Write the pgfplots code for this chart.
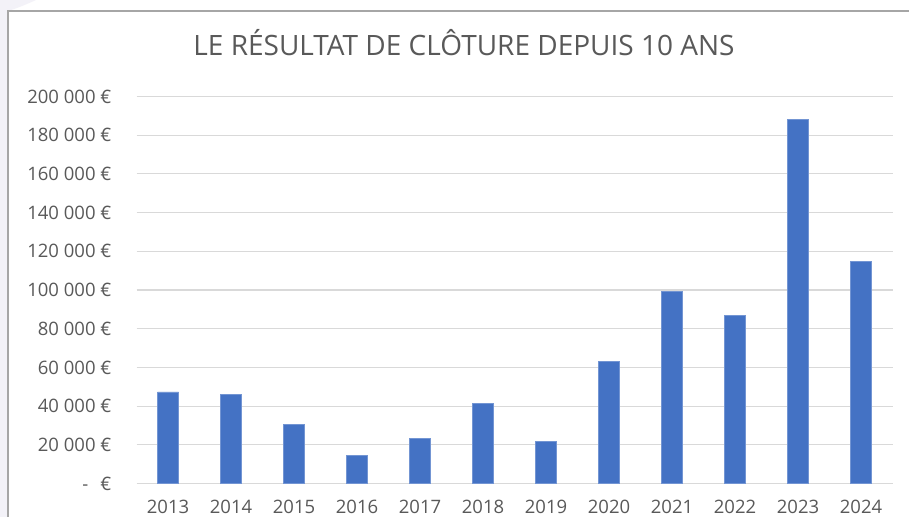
\documentclass[border=0pt]{standalone}
\usepackage{fontspec}
\setmainfont{Open Sans}
\usepackage{pgfplots}
\pgfplotsset{compat=1.18}
\definecolor{barblue}{HTML}{4472C4}
\definecolor{gridgray}{HTML}{D9D9D9}
\definecolor{txtgray}{HTML}{595959}
\definecolor{lav}{HTML}{F3F2F8}
\definecolor{bordergray}{HTML}{A6A6A6}
\begin{document}
\begin{tikzpicture}[x=1pt,y=1pt]
\useasboundingbox (0,0) rectangle (909,517);
\clip (0,0) rectangle (909,517);
\fill[white] (0,0) rectangle (909,517);
\fill[lav] (0,0) rectangle (8,517);
\fill[lav] (0,517) -- (36,517) .. controls (25,512) and (15,508) .. (8,506) -- (0,506) -- cycle;
\draw[bordergray, line width=1.2pt] (8,0) -- (8,506) -- (909,506);
\node[anchor=base, text=txtgray, inner sep=0pt, font=\fontsize{28}{32}\selectfont] at (464,461) {LE RÉSULTAT DE CLÔTURE DEPUIS 10 ANS};
\begin{axis}[
  at={(136.5pt,33.5pt)}, anchor=south west, scale only axis,
  width=756pt, height=387pt,
  xmin=-0.5, xmax=11.5, ymin=0, ymax=200000,
  scaled y ticks=false,
  axis line style={draw=none},
  major tick length=0pt,
  ymajorgrids, grid style={gridgray, line width=1.2pt},
  ytick={0,20000,40000,60000,80000,100000,120000,140000,160000,180000,200000},
  yticklabels={{-\hspace{12pt}€},{20 000 €},{40 000 €},{60 000 €},{80 000 €},{100 000 €},{120 000 €},{140 000 €},{160 000 €},{180 000 €},{200 000 €}},
  xtick={0,1,2,3,4,5,6,7,8,9,10,11},
  xticklabels={2013,2014,2015,2016,2017,2018,2019,2020,2021,2022,2023,2024},
  ticklabel style={font=\fontsize{18.5}{22}\selectfont, text=txtgray, inner sep=0pt},
  yticklabel style={anchor=east, xshift=-25pt},
  xticklabel style={anchor=north, yshift=-16.5pt},
  clip=false,
]
\addplot[ybar, fill=barblue, draw=barblue!75!white, line width=0.6pt, bar width=21pt] coordinates {
 (0,47300) (1,46250) (2,30400) (3,14700) (4,23150) (5,41450)
 (6,21960) (7,62950) (8,99130) (9,87080) (10,188370) (11,114830)
};
\end{axis}
\end{tikzpicture}
\end{document}
